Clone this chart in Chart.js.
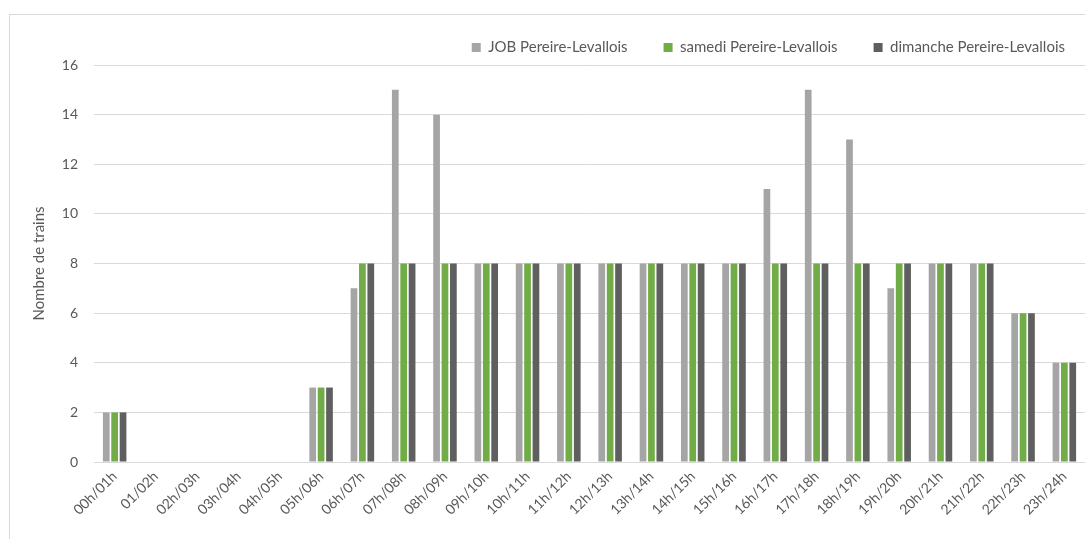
<!DOCTYPE html>
<html>
<head>
<meta charset="utf-8">
<script src="https://cdn.jsdelivr.net/npm/chart.js@4.4.1/dist/chart.umd.min.js"></script>
<style>
  html, body { margin: 0; padding: 0; background: #fff; overflow: hidden; }
  body { width: 1085px; height: 539px; position: relative; }
  #frame { position: absolute; left: 9px; top: 14px; width: 1100px; height: 560px; border: 1px solid #d9d9d9; box-sizing: border-box; }
  #wrap { position: absolute; left: 10px; top: 1px; width: 1091px; height: 538px; }
</style>
</head>
<body>
<div id="frame"></div>
<div id="wrap"><canvas id="chart"></canvas></div>
<script>
const categories = ["00h/01h", "01/02h", "02h/03h", "03h/04h", "04h/05h", "05h/06h", "06h/07h", "07h/08h",
  "08h/09h", "09h/10h", "10h/11h", "11h/12h", "12h/13h", "13h/14h", "14h/15h", "15h/16h",
  "16h/17h", "17h/18h", "18h/19h", "19h/20h", "20h/21h", "21h/22h", "22h/23h", "23h/24h"];

const jobValues      = [2, 0, 0, 0, 0, 3, 7, 15, 14, 8, 8, 8, 8, 8, 8, 8, 11, 15, 13, 7, 8, 8, 6, 4];
const samediValues   = [2, 0, 0, 0, 0, 3, 8, 8, 8, 8, 8, 8, 8, 8, 8, 8, 8, 8, 8, 8, 8, 8, 6, 4];
const dimancheValues = [2, 0, 0, 0, 0, 3, 8, 8, 8, 8, 8, 8, 8, 8, 8, 8, 8, 8, 8, 8, 8, 8, 6, 4];

const seriesNames = ["JOB Pereire-Levallois", "samedi Pereire-Levallois", "dimanche Pereire-Levallois"];
const yTicks = [0, 2, 4, 6, 8, 10, 12, 14, 16];

const textColor = "#595959";
const gridColor = "#d9d9d9";
const font = { family: "Lato, 'Open Sans', sans-serif", size: 14 };
const bigFont = { family: "Lato, 'Open Sans', sans-serif", size: 15 };

const makeSet = (label, data, color) => ({
  label,
  data,
  backgroundColor: color,
  borderWidth: 0,
  barPercentage: 0.8,
  categoryPercentage: 0.61,
});

new Chart(document.getElementById("chart"), {
  type: "bar",
  data: {
    labels: categories,
    datasets: [
      makeSet(seriesNames[0], jobValues, "#a5a5a5"),
      makeSet(seriesNames[1], samediValues, "#70ad47"),
      makeSet(seriesNames[2], dimancheValues, "#5f5f5f"),
    ],
  },
  options: {
    responsive: true,
    maintainAspectRatio: false,
    animation: false,
    layout: { padding: 0 },
    scales: {
      x: {
        grid: { display: false, drawTicks: false },
        border: { display: true, color: gridColor, width: 1 },
        ticks: {
          color: textColor,
          font,
          minRotation: 45,
          maxRotation: 45,
          padding: 6,
          autoSkip: false,
        },
        afterFit: axis => {
          axis.height = 77;
          axis.paddingRight = 16; // plot ends at the window edge
        },
      },
      y: {
        min: 0,
        max: 16,
        afterBuildTicks: axis => { axis.ticks = yTicks.map(v => ({ value: v })); },
        grid: { color: gridColor, drawTicks: false },
        border: { display: false },
        ticks: { color: textColor, font, padding: 16 },
        title: {
          display: true,
          text: "Nombre de trains",
          color: textColor,
          font: bigFont,
          padding: { top: 20, bottom: 0 },
        },
        afterFit: axis => {
          axis.width = 84;
          axis.paddingTop = 64;
        },
      },
    },
    plugins: {
      legend: {
        position: "top",
        align: "end",
        labels: {
          color: textColor,
          font: bigFont,
          boxWidth: 9,
          boxHeight: 9,
          padding: 36,
        },
      },
      tooltip: { enabled: false },
    },
  },
});
</script>
</body>
</html>
